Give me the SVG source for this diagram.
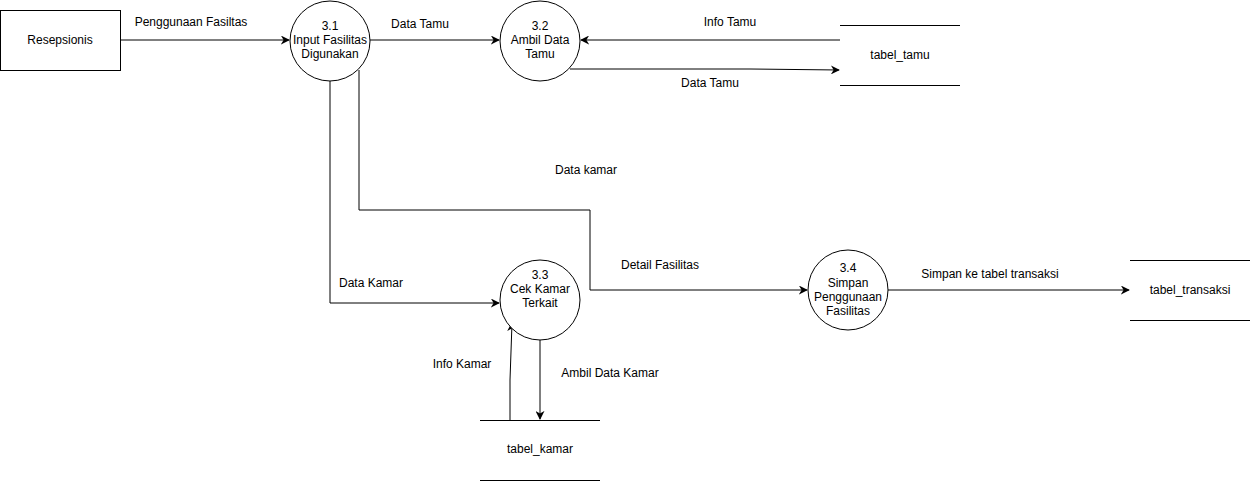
<svg xmlns="http://www.w3.org/2000/svg" width="1251" height="481" viewBox="0 0 1251 481">
<style>
text{font-family:"Liberation Sans",Arial,sans-serif;font-size:12px;fill:#000;text-anchor:middle;dominant-baseline:central}
.n{fill:#fff;stroke:#000;stroke-width:1}
.e{fill:none;stroke:#000;stroke-width:1}
.s{stroke:#000;stroke-width:1}
</style>
<defs>
<marker id="a" viewBox="0 0 10 10" refX="9" refY="5" markerWidth="9" markerHeight="9" markerUnits="userSpaceOnUse" orient="auto">
<path d="M0,0 L10,5 L0,10 L3,5 Z" fill="#000"/>
</marker>
</defs>
<rect width="1251" height="481" fill="#fff"/>
<g id="connectors">
<path class="e" d="M120,40 H289" marker-end="url(#a)"/>
<path class="e" d="M370,40 H499" marker-end="url(#a)"/>
<path class="e" d="M840,40 H581" marker-end="url(#a)"/>
<path class="e" d="M570,69 L750,69 L839,70" marker-end="url(#a)"/>
<path class="e" d="M330,81 V303 H499" marker-end="url(#a)"/>
<path class="e" d="M359,70 V210 H590 V290 H807" marker-end="url(#a)"/>
<path class="e" d="M540,330 V419" marker-end="url(#a)"/>
<path class="e" d="M510,420 L510,380 L512,323" marker-end="url(#a)"/>
<path class="e" d="M888,290 H1129" marker-end="url(#a)"/>
<text x="191" y="22">Penggunaan Fasiltas</text>
<text x="420" y="24">Data Tamu</text>
<text x="730" y="22">Info Tamu</text>
<text x="710" y="83">Data Tamu</text>
<text x="371" y="283">Data Kamar</text>
<text x="586" y="170">Data kamar</text>
<text x="660" y="265">Detail Fasilitas</text>
<text x="610" y="373">Ambil Data Kamar</text>
<text x="462" y="364">Info Kamar</text>
<text x="990" y="274">Simpan ke tabel transaksi</text>
</g>
<g id="resepsionis">
<rect class="n" x="0.5" y="10.5" width="120" height="60"/>
<text x="60" y="40">Resepsionis</text>
</g>
<g id="p31">
<circle class="n" cx="330" cy="41" r="40"/>
<text x="330" y="26">3.1</text>
<text x="330" y="40">Input Fasilitas</text>
<text x="330" y="54">Digunakan</text>
</g>
<g id="p32">
<circle class="n" cx="540" cy="41" r="40"/>
<text x="540" y="26">3.2</text>
<text x="540" y="40">Ambil Data</text>
<text x="540" y="54">Tamu</text>
</g>
<g id="p33">
<circle class="n" cx="540" cy="300" r="40"/>
<text x="540" y="275">3.3</text>
<text x="540" y="289">Cek Kamar</text>
<text x="540" y="303">Terkait</text>
</g>
<g id="p34">
<circle class="n" cx="848" cy="290" r="40"/>
<text x="848" y="268">3.4</text>
<text x="848" y="283">Simpan</text>
<text x="848" y="297">Penggunaan</text>
<text x="848" y="311">Fasilitas</text>
</g>
<g id="tabel_tamu">
<line class="s" x1="840" y1="25.5" x2="960" y2="25.5"/>
<line class="s" x1="840" y1="85.5" x2="960" y2="85.5"/>
<text x="900" y="55">tabel_tamu</text>
</g>
<g id="tabel_kamar">
<line class="s" x1="480" y1="420.5" x2="600" y2="420.5"/>
<line class="s" x1="480" y1="480.5" x2="600" y2="480.5"/>
<text x="540" y="449">tabel_kamar</text>
</g>
<g id="tabel_transaksi">
<line class="s" x1="1130" y1="260.5" x2="1250" y2="260.5"/>
<line class="s" x1="1130" y1="320.5" x2="1250" y2="320.5"/>
<text x="1190" y="290">tabel_transaksi</text>
</g>
</svg>
